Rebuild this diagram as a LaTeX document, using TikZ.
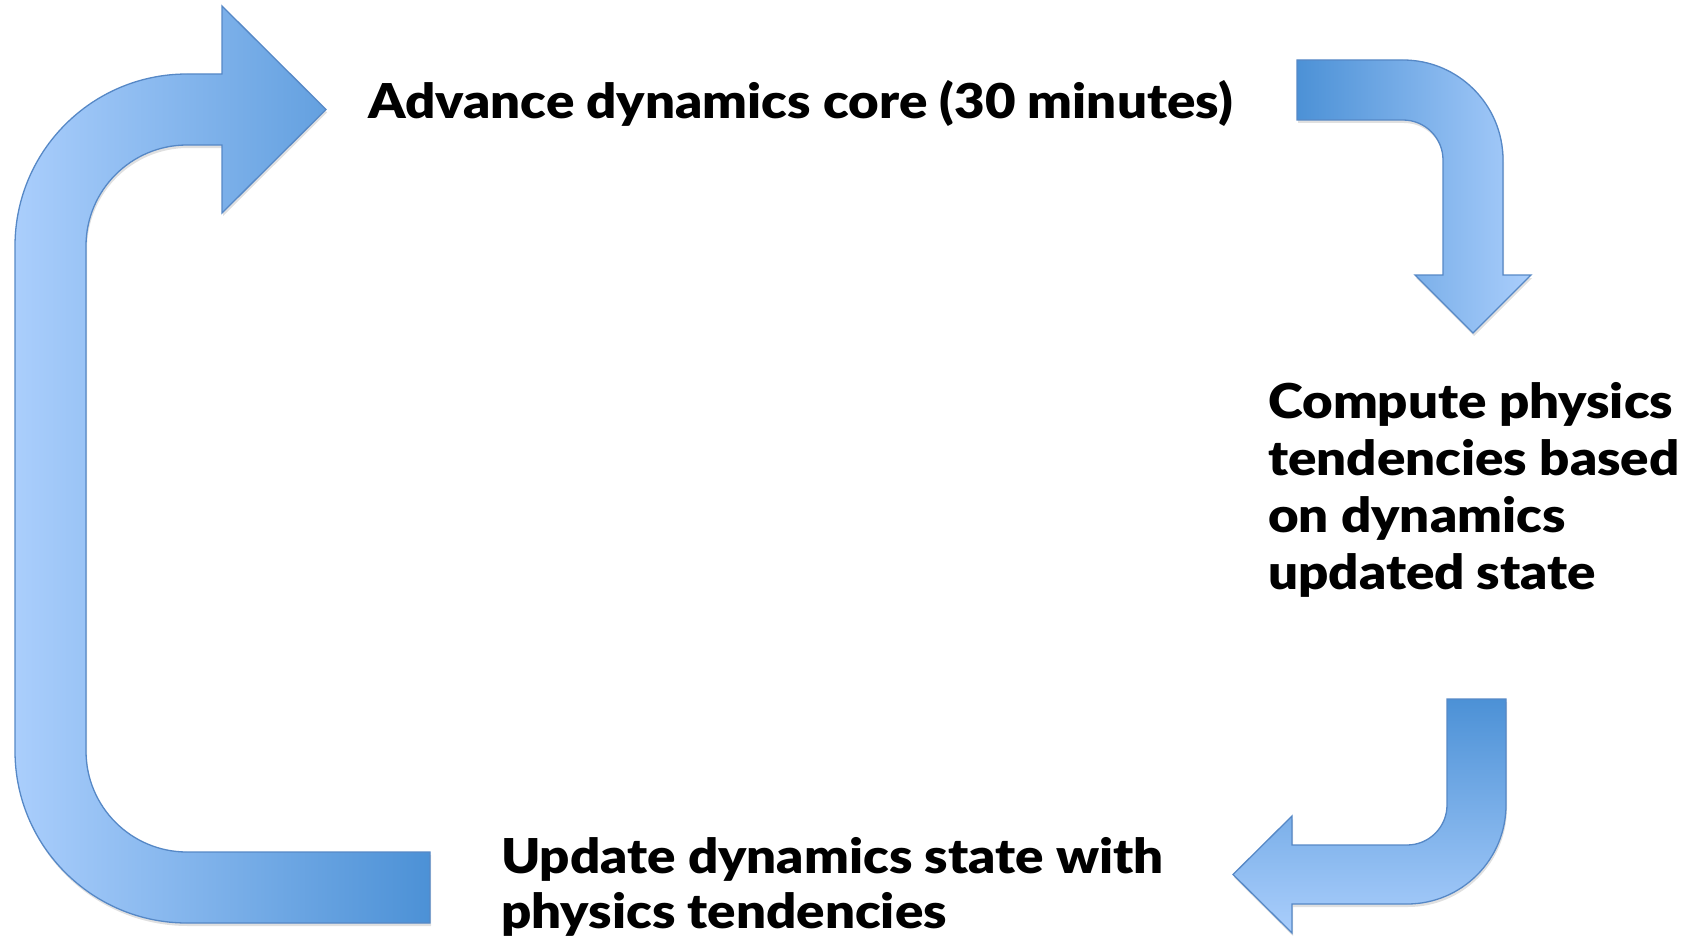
\documentclass[tikz,border=0pt]{standalone}
\usepackage{graphicx}
\usepackage{fontspec}
\setmainfont{Lato}[UprightFont=* Black]
\usetikzlibrary{shadows}
\definecolor{arrowdark}{RGB}{76,145,214}
\definecolor{arrowlight}{RGB}{170,206,252}
\definecolor{arrowline}{RGB}{86,136,198}
% slightly widened letters for the captions
\newcommand\wideline[1]{\scalebox{1.1}[1]{#1}}
\tikzset{
  blockarrow/.style={draw=arrowline, line width=1.3pt, line join=miter,
    drop shadow={shadow xshift=1pt, shadow yshift=-3pt, fill=black, opacity=0.12}},
  caption/.style={inner sep=0pt, font=\fontsize{48}{55}\selectfont, align=left}
}
\begin{document}
\begin{tikzpicture}[x=1pt, y=-1pt]
\useasboundingbox (0,0) rectangle (1691,939);

% loop-back arrow on the left: from the bottom, up the side, into the top
\path[blockarrow, left color=arrowlight, right color=arrowdark]
  (430,852) -- (187,852)
  arc[start angle=90, end angle=180, radius=101] -- (86,246)
  arc[start angle=180, end angle=270, radius=101] -- (222,145)
  -- (222,213) -- (326,109.5) -- (222,6) -- (222,74) -- (187,74)
  arc[start angle=270, end angle=180, radius=172] -- (15,751)
  arc[start angle=180, end angle=90, radius=172] -- (430,923) -- cycle;

% top right arrow turning downwards
\path[blockarrow, left color=arrowdark, right color=arrowlight]
  (1297,60) -- (1403,60)
  arc[start angle=270, end angle=360, radius=100] -- (1503,275)
  -- (1531,275) -- (1473,333) -- (1415,275) -- (1443,275) -- (1443,160)
  arc[start angle=0, end angle=-90, radius=40] -- (1297,120) -- cycle;

% bottom right arrow turning to the left
\path[blockarrow, top color=arrowdark, bottom color=arrowlight]
  (1447,699) -- (1506,699) -- (1506,805)
  arc[start angle=0, end angle=90, radius=99] -- (1292,904)
  -- (1292,933) -- (1233,874.5) -- (1292,816) -- (1292,845) -- (1407,845)
  arc[start angle=90, end angle=0, radius=40] -- cycle;

\node[caption, anchor=base west] (advance) at (368,119)
  {\wideline{Advance dynamics core (30 minutes)}};
\node[caption, anchor=north west, font=\fontsize{48}{57}\selectfont] (compute) at (1268,382)
  {\wideline{Compute physics}\\\wideline{tendencies based}\\\wideline{on dynamics}\\\wideline{updated state}};
\node[caption, anchor=north west] (update) at (501,837)
  {\wideline{Update dynamics state with}\\\wideline{physics tendencies}};
\end{tikzpicture}
\end{document}
